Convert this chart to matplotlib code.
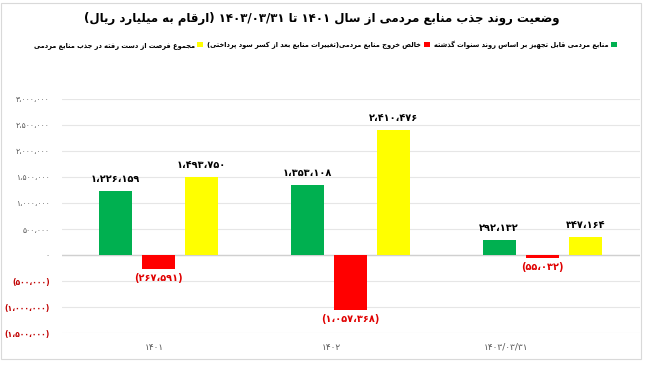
import matplotlib
matplotlib.use("Agg")
import matplotlib.pyplot as plt
import numpy as np
from matplotlib.patches import Rectangle
from matplotlib.ticker import FuncFormatter

# data (billion rials)
categories = ["1401", "1402", "1403/03/31"]
mobilizable = [1226159, 1353108, 292132]       # green
net_outflow = [-267591, -1057368, -55032]      # red
lost_opportunity = [1493750, 2410476, 347164]  # yellow

title = "وضعیت روند جذب منابع مردمی از سال ۱۴۰۱ تا ۱۴۰۳/۰۳/۳۱ (ارقام به میلیارد ریال)"
series_labels = [
    "منابع مردمی قابل تجهیز بر اساس روند سنوات گذشته",
    "خالص خروج منابع مردمی(تغییرات منابع بعد از کسر سود پرداختی)",
    "مجموع فرصت از دست رفته در جذب منابع مردمی",
]

# --- minimal arabic/persian shaping + rtl ordering (matplotlib has no shaping) ---
_DUAL = {
    'ئ': 0xFE89, 'ب': 0xFE8F, 'ت': 0xFE95, 'ث': 0xFE99, 'ج': 0xFE9D, 'ح': 0xFEA1,
    'خ': 0xFEA5, 'س': 0xFEB1, 'ش': 0xFEB5, 'ص': 0xFEB9, 'ض': 0xFEBD, 'ط': 0xFEC1,
    'ظ': 0xFEC5, 'ع': 0xFEC9, 'غ': 0xFECD, 'ف': 0xFED1, 'ق': 0xFED5, 'ك': 0xFED9,
    'ل': 0xFEDD, 'م': 0xFEE1, 'ن': 0xFEE5, 'ه': 0xFEE9, 'ي': 0xFEF1,
    'پ': 0xFB56, 'چ': 0xFB7A, 'ک': 0xFB8E, 'گ': 0xFB92, 'ی': 0xFBFC,
}
_RIGHT = {
    'آ': 0xFE81, 'أ': 0xFE83, 'ؤ': 0xFE85, 'إ': 0xFE87, 'ا': 0xFE8D, 'ة': 0xFE93,
    'د': 0xFEA9, 'ذ': 0xFEAB, 'ر': 0xFEAD, 'ز': 0xFEAF, 'و': 0xFEED, 'ى': 0xFEEF,
    'ژ': 0xFB8A,
}
_DIGITS = set("۰۱۲۳۴۵۶۷۸۹0123456789")
_MIRROR = {'(': ')', ')': '('}


def _joins(c):
    return c in _DUAL or c in _RIGHT


def shape(text):
    out = []
    i = 0
    n = len(text)
    while i < n:
        c = text[i]
        prev = text[i - 1] if i > 0 else ''
        nxt = text[i + 1] if i + 1 < n else ''
        pj = prev in _DUAL
        if c == 'ل' and nxt in ('ا', 'آ'):
            base = 0xFEFB if nxt == 'ا' else 0xFEF5
            out.append(chr(base + (1 if pj else 0)))
            i += 2
            continue
        if c in _DUAL:
            nj = _joins(nxt)
            off = 3 if (pj and nj) else 1 if pj else 2 if nj else 0
            out.append(chr(_DUAL[c] + off))
        elif c in _RIGHT:
            out.append(chr(_RIGHT[c] + (1 if pj else 0)))
        else:
            out.append(c)
        i += 1
    return ''.join(out)


def rtl(text):
    s = shape(text)
    runs = []
    i = 0
    while i < len(s):
        if s[i] in _DIGITS:
            j = i
            while j < len(s) and (s[j] in _DIGITS or (s[j] in '/،,' and j + 1 < len(s) and s[j + 1] in _DIGITS)):
                j += 1
            runs.append((True, s[i:j]))
            i = j
        else:
            j = i
            while j < len(s) and s[j] not in _DIGITS:
                j += 1
            runs.append((False, s[i:j]))
            i = j
    vis = []
    for is_num, r in reversed(runs):
        if is_num:
            vis.append(r)
        else:
            vis.append(''.join(_MIRROR.get(ch, ch) for ch in reversed(r)))
    return ''.join(vis)


def fa_digits(s):
    return s.translate(str.maketrans("0123456789", "۰۱۲۳۴۵۶۷۸۹"))


def fa_num(v):
    s = fa_digits(f"{abs(int(round(v))):,}").replace(",", "،")
    return f"({s})" if v < 0 else s


plt.rcParams['font.family'] = ['DejaVu Sans']

fig = plt.figure(figsize=(6.64, 3.76), dpi=100)
ax = fig.add_axes([0.0934, 0.114, 0.8706, 0.623])

# outer chart frame
fig.patches.append(Rectangle((0.002, 0.045), 0.964, 0.947, transform=fig.transFigure,
                             fill=False, edgecolor='#d9d9d9', linewidth=0.8))

x = np.arange(len(categories))
w = 0.172
step = 0.224
colors = ['#00B050', '#FF0000', '#FFFF00']
series = [mobilizable, net_outflow, lost_opportunity]
bars = []
for k, (vals, col) in enumerate(zip(series, colors)):
    b = ax.bar(x + (k - 1) * step, vals, w, color=col, zorder=3)
    bars.append(b)
    for rect, v in zip(b, vals):
        cx = rect.get_x() + rect.get_width() / 2
        if v >= 0:
            ax.annotate(fa_num(v), (cx, v), xytext=(0, 5), textcoords='offset points',
                        ha='center', va='bottom', fontsize=7, fontweight='bold', color='black')
        else:
            ax.annotate(fa_num(v), (cx, v), xytext=(0, -3), textcoords='offset points',
                        ha='center', va='top', fontsize=7, fontweight='bold', color='#E00000')

ax.set_xlim(-0.5, 2.51)
ax.set_ylim(-1500000, 3000000)
ax.set_yticks(np.arange(-1500000, 3000001, 500000))
ax.yaxis.set_major_formatter(FuncFormatter(lambda v, p: fa_num(v) if v != 0 else "۰"))
for t, v in zip(ax.get_yticklabels(), ax.get_yticks()):
    if v < 0:
        t.set_color('#C00000')
        t.set_fontweight('bold')
    else:
        t.set_color('#595959')
    t.set_fontsize(5.5)
ax.tick_params(axis='y', length=0, pad=9)
ax.set_xticks([])
ax.grid(axis='y', color='#e6e6e6', linewidth=0.8, zorder=0)
ax.axhline(0, color='#d0d0d0', linewidth=1, zorder=2)
for sp in ax.spines.values():
    sp.set_visible(False)

# category labels sit a bit left of the bar groups in the original
label_x = [-0.02, 0.9, 1.81]
for lx, c in zip(label_x, categories):
    ax.text(lx, -0.06, fa_digits(c), transform=ax.get_xaxis_transform(),
            ha='center', va='center', fontsize=6.5, color='#595959')

fig.text(0.484, 0.952, rtl(title), ha='center', va='center', fontsize=8.5, fontweight='bold')

leg = fig.legend([bars[2], bars[1], bars[0]],
                 [rtl(series_labels[2]), rtl(series_labels[1]), rtl(series_labels[0])],
                 loc='center', bbox_to_anchor=(0.49, 0.882), ncol=3, frameon=False,
                 markerfirst=False, handlelength=0.9, handleheight=0.9, handletextpad=0.4,
                 columnspacing=0.6, borderpad=0.2, prop={'size': 4.8, 'weight': 'bold'})

fig.savefig("out.png", dpi=100, facecolor='white')
